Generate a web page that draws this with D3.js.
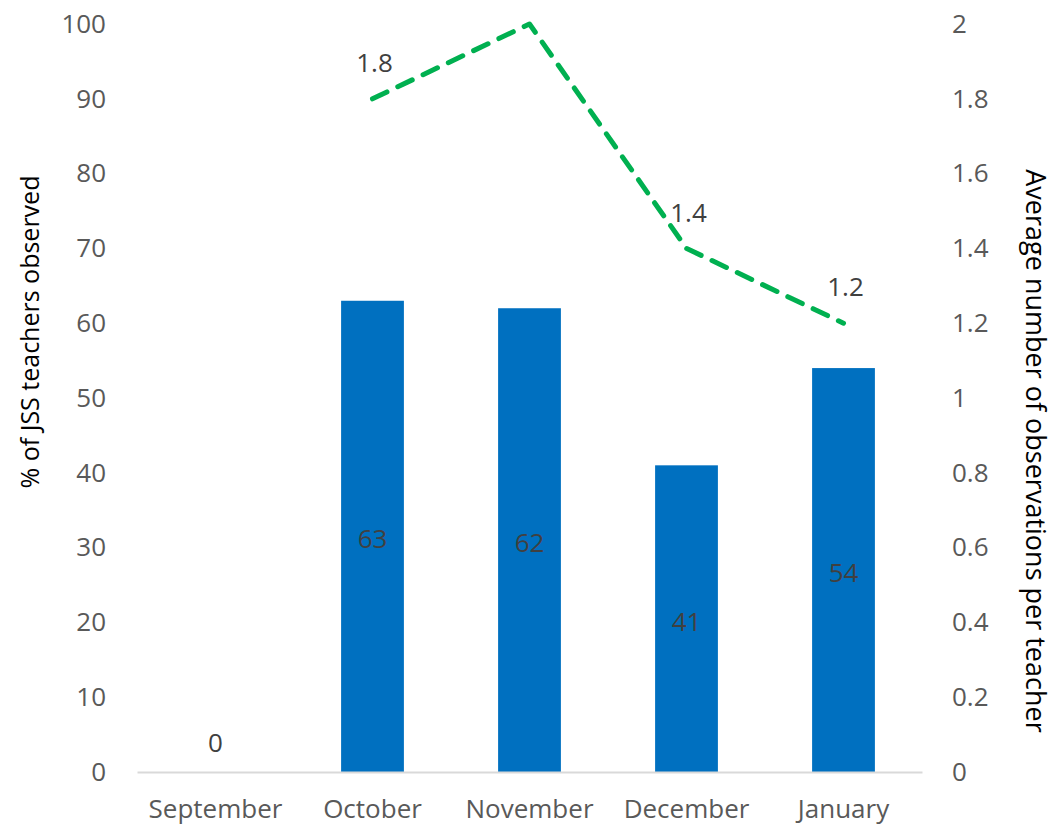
<!DOCTYPE html>
<html>
<head>
<meta charset="utf-8">
<script src="https://cdn.jsdelivr.net/npm/d3@7"></script>
<style>
  body { margin: 0; background: #fff; }
  text { font-family: "Open Sans", "Liberation Sans", sans-serif; }
</style>
</head>
<body>
<svg id="chart" width="1058" height="827"></svg>
<script>
// Données
const mois = ["September", "October", "November", "December", "January"];
const pctObserves = [0, 63, 62, 41, 54];
const moyObservations = [null, 1.8, 2.0, 1.4, 1.2];
const etiquettesLigne = ["", "1.8", "", "1.4", "1.2"];
const ticksGauche = [0, 10, 20, 30, 40, 50, 60, 70, 80, 90, 100];
const ticksDroite = [0, 0.2, 0.4, 0.6, 0.8, 1, 1.2, 1.4, 1.6, 1.8, 2];

const svg = d3.select("#chart");

// Zone du graphique
const gauche = 137, droite = 922, haut = 24, bas = 772;
const taillePolice = "26px";

// Échelles
const xScale = d3.scaleBand()
    .domain(mois)
    .range([gauche, droite])
    .paddingInner(0.6)
    .paddingOuter(0.3);

const yScale = d3.scaleLinear().domain([0, 100]).range([bas, haut]);
const y2Scale = d3.scaleLinear().domain([0, 2]).range([bas, haut]);

// Axe y gauche
svg.append("g")
    .attr("transform", `translate(${gauche},0)`)
    .call(d3.axisLeft(yScale).tickValues(ticksGauche).tickSize(0).tickPadding(31))
    .call(g => g.select(".domain").remove())
    .call(g => g.selectAll("text")
        .attr("fill", "#595959")
        .style("font-size", taillePolice));

// Axe y droite
svg.append("g")
    .attr("transform", `translate(${droite},0)`)
    .call(d3.axisRight(y2Scale).tickValues(ticksDroite).tickSize(0).tickPadding(30)
        .tickFormat(d => String(d)))
    .call(g => g.select(".domain").remove())
    .call(g => g.selectAll("text")
        .attr("fill", "#595959")
        .style("font-size", taillePolice));

// Barres
svg.selectAll(".barre")
    .data(pctObserves)
    .enter()
    .append("rect")
    .attr("class", "barre")
    .attr("x", (d, i) => xScale(mois[i]))
    .attr("y", d => yScale(d))
    .attr("width", xScale.bandwidth())
    .attr("height", d => bas - yScale(d))
    .attr("fill", "#0070C0");

// Axe x
svg.append("g")
    .attr("transform", `translate(0,${bas})`)
    .call(d3.axisBottom(xScale).tickSize(0).tickPadding(28))
    .call(g => g.select(".domain").attr("stroke", "#d9d9d9").attr("stroke-width", 2))
    .call(g => g.selectAll("text")
        .attr("fill", "#595959")
        .style("font-size", taillePolice));

// Étiquettes des barres
svg.selectAll(".etiquette-barre")
    .data(pctObserves)
    .enter()
    .append("text")
    .attr("class", "etiquette-barre")
    .attr("x", (d, i) => xScale(mois[i]) + xScale.bandwidth() / 2)
    .attr("y", d => d === 0 ? yScale(d) - 29 : (yScale(d) + bas) / 2 + 3)
    .attr("dy", "0.35em")
    .attr("text-anchor", "middle")
    .attr("fill", "#404040")
    .style("font-size", taillePolice)
    .text(d => d);

// Ligne pointillée
const pointsLigne = mois.map((m, i) => ({ mois: m, v: moyObservations[i], lab: etiquettesLigne[i] }))
    .filter(p => p.v !== null);

const ligne = d3.line()
    .x(p => xScale(p.mois) + xScale.bandwidth() / 2)
    .y(p => y2Scale(p.v));

svg.append("path")
    .datum(pointsLigne)
    .attr("d", ligne)
    .attr("fill", "none")
    .attr("stroke", "#00B050")
    .attr("stroke-width", 5)
    .attr("stroke-dasharray", "16,12")
    .attr("stroke-linecap", "round")
    .attr("stroke-linejoin", "round");

// Étiquettes de la ligne
svg.selectAll(".etiquette-ligne")
    .data(pointsLigne.filter(p => p.lab !== ""))
    .enter()
    .append("text")
    .attr("class", "etiquette-ligne")
    .attr("x", p => xScale(p.mois) + xScale.bandwidth() / 2 + 2)
    .attr("y", p => y2Scale(p.v) - 36)
    .attr("dy", "0.35em")
    .attr("text-anchor", "middle")
    .attr("fill", "#404040")
    .style("font-size", taillePolice)
    .text(p => p.lab);

// Titres des axes
svg.append("text")
    .attr("transform", "translate(30,332) rotate(-90)")
    .attr("text-anchor", "middle")
    .attr("dy", "0.35em")
    .attr("fill", "#000")
    .style("font-size", "25px")
    .text("% of JSS teachers observed");

svg.append("text")
    .attr("transform", "translate(1035,451) rotate(90)")
    .attr("text-anchor", "middle")
    .attr("dy", "0.35em")
    .attr("fill", "#000")
    .style("font-size", "27px")
    .text("Average number of observations per teacher");
</script>
</body>
</html>
